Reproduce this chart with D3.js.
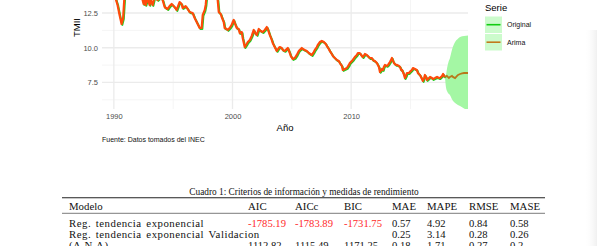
<!DOCTYPE html>
<html>
<head>
<meta charset="utf-8">
<script src="https://cdn.jsdelivr.net/npm/d3@7.9.0/dist/d3.min.js"></script>
<style>
  body { margin: 0; background: #fff; }
  svg { display: block; }
  .tick text { fill: #4d4d4d; }
</style>
</head>
<body>
<svg id="chart" width="597" height="246"></svg>
<script>
// serie original (TMII)
const anios = [1990.06, 1990.31, 1990.48, 1990.65, 1990.78, 1990.90, 1991.2, 1991.6, 1992.0, 1992.3,
  1992.42, 1992.51, 1992.59, 1992.68, 1992.84, 1993.01, 1993.10, 1993.27, 1993.43, 1993.69,
  1993.94, 1994.11, 1994.28, 1994.53, 1994.70, 1994.87, 1995.12, 1995.29, 1995.54, 1995.71,
  1995.80, 1996.05, 1996.22, 1996.39, 1996.64, 1996.81, 1996.98, 1997.23, 1997.40, 1997.49,
  1997.66, 1997.74, 1997.82, 1998.1, 1998.4, 1998.75, 1998.84, 1999.01, 1999.09, 1999.26,
  1999.34, 1999.51, 1999.60, 1999.76, 1999.93, 2000.02, 2000.10, 2000.19, 2000.36, 2000.52,
  2000.61, 2000.78, 2000.86, 2001.03, 2001.20, 2001.29, 2001.46, 2001.62, 2001.79, 2001.96,
  2002.05, 2002.21, 2002.38, 2002.55, 2002.72, 2002.89, 2002.97, 2003.14, 2003.31, 2003.39,
  2003.56, 2003.73, 2003.90, 2003.98, 2004.15, 2004.24, 2004.41, 2004.57, 2004.66, 2004.83,
  2004.91, 2005.08, 2005.25, 2005.42, 2005.59, 2005.67, 2005.84, 2005.93, 2006.09, 2006.26,
  2006.43, 2006.69, 2006.85, 2006.94, 2007.11, 2007.19, 2007.36, 2007.53, 2007.70, 2007.87,
  2007.95, 2008.12, 2008.20, 2008.37, 2008.46, 2008.63, 2008.80, 2008.96, 2009.05, 2009.22,
  2009.30, 2009.47, 2009.64, 2009.81, 2009.89, 2010.06, 2010.14, 2010.31, 2010.48, 2010.57,
  2010.73, 2010.90, 2010.99, 2011.16, 2011.32, 2011.49, 2011.58, 2011.75, 2011.83, 2012.00,
  2012.17, 2012.34, 2012.43, 2012.59, 2012.68, 2012.76, 2012.85, 2013.02, 2013.11, 2013.27,
  2013.36, 2013.44, 2013.53, 2013.61, 2013.78, 2013.87, 2014.04, 2014.12, 2014.21, 2014.29,
  2014.46, 2014.53, 2014.62, 2014.70, 2014.87, 2014.95, 2015.12, 2015.21, 2015.38, 2015.54,
  2015.63, 2015.80, 2015.97, 2016.05, 2016.14, 2016.22, 2016.31, 2016.39, 2016.48, 2016.65,
  2016.81, 2016.90, 2017.07, 2017.24, 2017.40, 2017.49, 2017.66, 2017.75, 2017.83, 2017.91];
const tmii = [13.79, 13.08, 12.36, 11.71, 12.14, 13.79, 14.4, 14.9, 14.6, 14.0,
  13.44, 13.15, 13.65, 13.08, 13.58, 13.08, 13.44, 13.08, 13.65, 13.44,
  13.65, 13.44, 12.93, 12.79, 13.0, 13.15, 12.93, 12.72, 13.29, 13.15,
  12.86, 13.0, 12.79, 12.57, 12.5, 12.14, 11.85, 11.42, 11.42, 12.36,
  12.72, 13.08, 13.79, 14.4, 14.3, 13.44, 12.57, 12.43, 12.21, 11.85,
  11.42, 11.35, 11.28, 11.42, 11.64, 11.85, 12.0, 11.78, 11.42, 11.35,
  11.06, 11.13, 10.7, 10.05, 10.27, 10.41, 10.56, 10.85, 11.28, 10.99,
  10.92, 11.35, 11.21, 11.13, 11.28, 11.49, 11.35, 10.92, 10.56, 10.34,
  10.05, 9.77, 9.98, 10.05, 9.98, 9.84, 9.77, 9.91, 9.98, 9.62,
  9.41, 9.19, 9.26, 9.48, 9.77, 9.84, 9.98, 9.91, 9.84, 9.77,
  9.62, 9.48, 9.69, 9.84, 10.05, 10.2, 10.41, 10.49, 10.41, 10.27,
  10.13, 9.91, 9.77, 9.55, 9.41, 9.26, 9.12, 9.05, 8.9, 8.69,
  8.4, 8.47, 8.54, 8.76, 8.9, 9.05, 9.12, 9.33, 9.48, 9.62,
  9.62, 9.41, 9.33, 9.55, 9.48, 9.33, 9.26, 9.26, 9.12, 9.05,
  8.9, 8.62, 8.26, 8.47, 8.4, 8.62, 8.76, 8.69, 8.76, 8.97,
  9.12, 9.26, 9.05, 8.9, 8.76, 8.76, 8.69, 8.62, 8.4, 8.4,
  8.04, 7.82, 7.97, 8.18, 8.18, 8.26, 8.4, 8.54, 8.47, 8.4,
  8.18, 8.04, 7.75, 7.61, 7.82, 8.04, 7.9, 7.68, 7.75, 7.9,
  7.82, 7.75, 7.82, 7.9, 7.82, 7.82, 7.97, 8.11, 7.97, 7.9];

// pronostico Arima y su banda
const aniosPron = [2017.91, 2018.07, 2018.24, 2018.33, 2018.5, 2018.58, 2018.76, 2018.93, 2019.01, 2019.18, 2019.35, 2019.52, 2019.68, 2019.85];
const pron = [7.9, 7.97, 7.82, 7.9, 7.97, 7.9, 7.82, 7.97, 8.04, 8.11, 8.15, 8.18, 8.18, 8.18];
const aniosBanda = [2017.91, 2017.99, 2018.1, 2018.2, 2018.33, 2018.5, 2018.76, 2019.0, 2019.18, 2019.52, 2019.85];
const bandaSup = [7.9, 8.04, 8.6, 8.95, 9.26, 9.85, 10.41, 10.65, 10.77, 10.85, 10.88];
const bandaInf = [7.9, 7.18, 6.85, 6.7, 6.6, 6.3, 6.02, 5.88, 5.81, 5.62, 5.5];

const ticksAnio = [1990, 2000, 2010];
const ticksAnioMenor = [1995, 2005, 2015];
const ticksTmii = [7.5, 10.0, 12.5];
const ticksTmiiMenor = [6.25, 8.75, 11.25, 13.75];
const series = ["Original", "Arima"];

// tabla
const columnas = ["Modelo", "AIC", "AICc", "BIC", "MAE", "MAPE", "RMSE", "MASE"];
const modelos = ["Reg. tendencia exponencial", "Reg. tendencia exponencial Validacion", "(A,N,A)"];
const metricas = [
  ["-1785.19", "-1783.89", "-1731.75", "0.57", "4.92", "0.84", "0.58"],
  ["", "", "", "0.25", "3.14", "0.28", "0.26"],
  ["1112.82", "1115.49", "1171.25", "0.18", "1.71", "0.27", "0.2"]
];

const svg = d3.select("#chart");
const x = d3.scaleLinear().domain([1989.0, 2019.85]).range([102, 468]);
const y = d3.scaleLinear().domain([5.59, 12.5]).range([109, 13]);

const defs = svg.append("defs");
defs.append("clipPath").attr("id", "clip")
  .append("rect").attr("x", 102).attr("y", -80).attr("width", 366).attr("height", 189);
const sombra = defs.append("linearGradient").attr("id", "sombra");
sombra.append("stop").attr("offset", "0%").attr("stop-color", "#fff").attr("stop-opacity", 0);
sombra.append("stop").attr("offset", "100%").attr("stop-color", "#e6e6e6").attr("stop-opacity", 1);

const panel = svg.append("g");

// rejilla
panel.selectAll(".gxm").data(ticksAnioMenor).join("line")
  .attr("x1", d => x(d)).attr("x2", d => x(d)).attr("y1", -80).attr("y2", 109)
  .attr("stroke", "#f2f2f2").attr("stroke-width", 0.8);
panel.selectAll(".gym").data(ticksTmiiMenor).join("line")
  .attr("x1", 102).attr("x2", 468).attr("y1", d => y(d)).attr("y2", d => y(d))
  .attr("stroke", "#f2f2f2").attr("stroke-width", 0.8);
panel.selectAll(".gx").data(ticksAnio).join("line")
  .attr("x1", d => x(d)).attr("x2", d => x(d)).attr("y1", -80).attr("y2", 109)
  .attr("stroke", "#ebebeb").attr("stroke-width", 1.3);
panel.selectAll(".gy").data(ticksTmii).join("line")
  .attr("x1", 102).attr("x2", 468).attr("y1", d => y(d)).attr("y2", d => y(d))
  .attr("stroke", "#ebebeb").attr("stroke-width", 1.3);

const marcas = panel.append("g").attr("clip-path", "url(#clip)");

// banda de prediccion
const banda = aniosBanda.map((a, i) => [a, bandaInf[i], bandaSup[i]]);
marcas.append("path").datum(banda)
  .attr("fill", "#a4f7a4")
  .attr("d", d3.area().curve(d3.curveMonotoneX).x(d => x(d[0])).y0(d => y(d[1])).y1(d => y(d[2])));

const linea = d3.line().x(d => x(d[0])).y(d => y(d[1]));
const original = anios.map((a, i) => [a, tmii[i]]);
marcas.append("path").datum(original)
  .attr("fill", "none").attr("stroke", "#22cc22").attr("stroke-width", 2)
  .attr("stroke-linejoin", "round")
  .attr("transform", "translate(0.7,0.9)")
  .attr("d", linea);
marcas.append("path").datum(original)
  .attr("fill", "none").attr("stroke", "#ff4a0a").attr("stroke-width", 2.2)
  .attr("stroke-linejoin", "round")
  .attr("d", linea);
marcas.append("path").datum(aniosPron.map((a, i) => [a, pron[i]]))
  .attr("fill", "none").attr("stroke", "#b8781a").attr("stroke-width", 1.8)
  .attr("d", linea);

// ejes
const ejeX = svg.append("g").attr("transform", "translate(0,109)")
  .call(d3.axisBottom(x).tickValues(ticksAnio).tickFormat(d3.format("d")).tickSize(0).tickPadding(5));
const ejeY = svg.append("g").attr("transform", "translate(102,0)")
  .call(d3.axisLeft(y).tickValues(ticksTmii).tickFormat(d3.format(".1f")).tickSize(0).tickPadding(4));
[ejeX, ejeY].forEach(g => {
  g.select(".domain").remove();
  g.selectAll("text").attr("font-family", "Liberation Sans, Arial, sans-serif").attr("font-size", 7.5);
});

const sans = "Liberation Sans, Arial, sans-serif";
svg.append("text").attr("x", 285).attr("y", 131).attr("text-anchor", "middle")
  .attr("font-family", sans).attr("font-size", 9.5).attr("fill", "#000").text("Año");
svg.append("text").attr("transform", "translate(80,27.5) rotate(-90)").attr("text-anchor", "middle")
  .attr("font-family", sans).attr("font-size", 9.5).attr("fill", "#000").text("TMII");
svg.append("text").attr("x", 102).attr("y", 142)
  .attr("font-family", sans).attr("font-size", 7).attr("fill", "#111").text("Fuente: Datos tomados del INEC");

// leyenda
const ley = svg.append("g").attr("transform", "translate(485,0)");
ley.append("text").attr("x", 0).attr("y", 10.5)
  .attr("font-family", sans).attr("font-size", 9.5).attr("fill", "#000").text("Serie");
const colores = d3.scaleOrdinal().domain(series).range(["#11cc11", "#c27a1c"]);
const item = ley.selectAll(".item").data(series).join("g")
  .attr("transform", (d, i) => `translate(0,${16.5 + i * 17.5})`);
item.append("rect").attr("width", 17).attr("height", 16.5).attr("fill", "#ccfbcc");
item.append("line").attr("x1", 1.5).attr("x2", 15.5).attr("y1", 8.2).attr("y2", 8.2)
  .attr("stroke", d => colores(d)).attr("stroke-width", 1.6);
item.append("text").attr("x", 22).attr("y", 10.5)
  .attr("font-family", sans).attr("font-size", 7).attr("fill", "#111").text(d => d);

// tabla
const serif = "Liberation Serif, Times New Roman, serif";
const tam = 10.6;
const colX = [69, 248, 295, 344, 392, 427, 469, 510];
svg.append("text").attr("x", 304).attr("y", 195).attr("text-anchor", "middle")
  .attr("font-family", serif).attr("font-size", 9.3).attr("fill", "#111")
  .text("Cuadro 1: Criterios de información y medidas de rendimiento");
svg.append("line").attr("x1", 62).attr("x2", 545).attr("y1", 197.8).attr("y2", 197.8)
  .attr("stroke", "#222").attr("stroke-width", 1.1);
svg.append("line").attr("x1", 62).attr("x2", 545).attr("y1", 213.3).attr("y2", 213.3)
  .attr("stroke", "#444").attr("stroke-width", 0.7);
svg.selectAll(".cab").data(columnas).join("text")
  .attr("x", (d, i) => colX[i]).attr("y", 209.6)
  .attr("font-family", serif).attr("font-size", tam + 0.2).attr("fill", "#111").text(d => d);
const fila = svg.selectAll(".fila").data(modelos).join("g")
  .attr("transform", (d, i) => `translate(0,${226.9 + i * 11.2})`);
fila.append("text").attr("x", colX[0])
  .attr("font-family", serif).attr("font-size", tam + 0.2)
  .attr("letter-spacing", 0.5).attr("word-spacing", 1.5)
  .attr("fill", "#111").text(d => d);
fila.each(function(d, r) {
  d3.select(this).selectAll(".v").data(metricas[r]).join("text")
    .attr("x", (v, j) => colX[j + 1])
    .attr("font-family", serif).attr("font-size", tam)
    .attr("fill", (v, j) => (r === 0 && j < 3) ? "#ff2a2a" : "#111")
    .text(v => v);
});

// sombra del visor en el borde derecho
svg.append("rect").attr("x", 584).attr("y", 30).attr("width", 13).attr("height", 216)
  .attr("fill", "url(#sombra)").attr("opacity", 0.6);
</script>
</body>
</html>
